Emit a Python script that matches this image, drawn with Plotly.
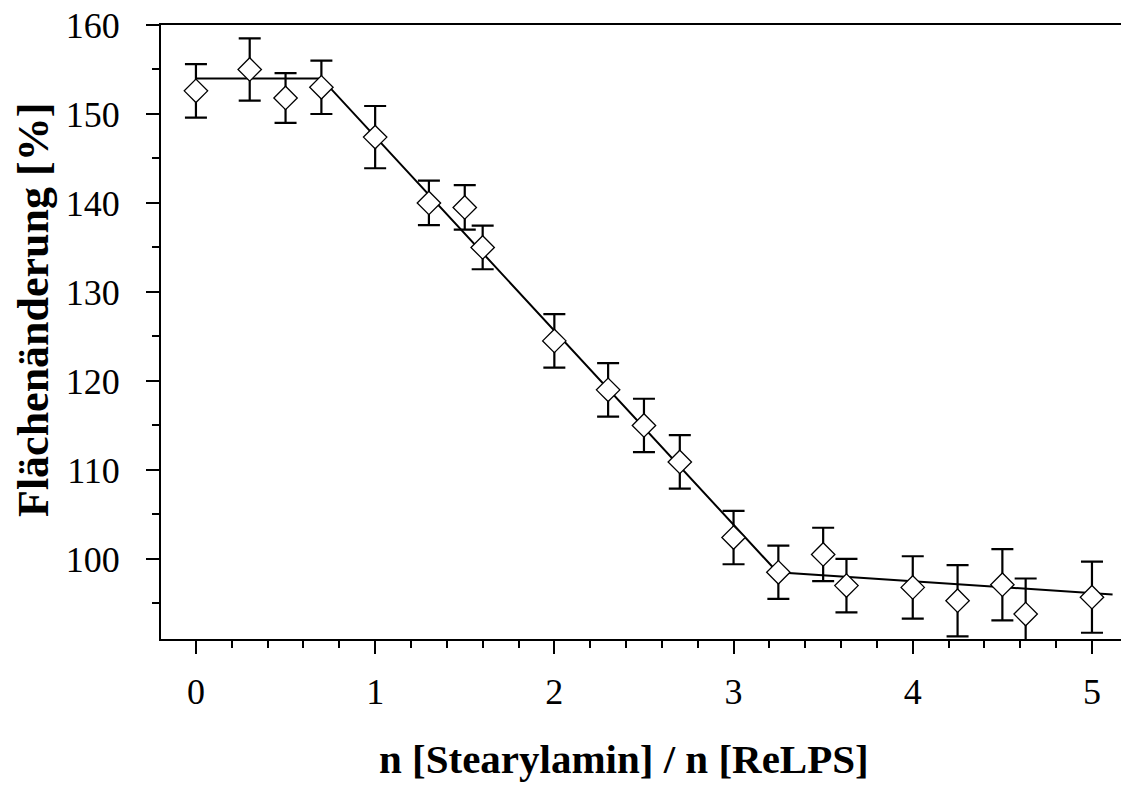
import plotly.graph_objects as go

# Data
ratio = [0, 0.3, 0.5, 0.7, 1.0, 1.3, 1.5, 1.6, 2.0, 2.3, 2.5, 2.7, 3.0, 3.25, 3.5, 3.63, 4.0, 4.25, 4.5, 4.63, 5.0]
area_change = [152.6, 155.0, 151.8, 153.0, 147.4, 140.0, 139.5, 135.0, 124.5, 119.0, 115.0, 110.9, 102.4, 98.5, 100.5, 97.0, 96.8, 95.3, 97.1, 93.8, 95.7]
area_err = [3.0, 3.5, 2.8, 3.0, 3.5, 2.5, 2.5, 2.45, 3.0, 3.0, 3.0, 3.0, 3.0, 3.0, 3.0, 3.0, 3.5, 4.0, 4.0, 4.0, 4.0]

fit_x = [0, 0.7, 3.245, 5.115]
fit_y = [154.0, 154.0, 98.5, 96.0]

x_ticks = [0, 1, 2, 3, 4, 5]
y_ticks = [100, 110, 120, 130, 140, 150, 160]

font_family = "Liberation Serif, Times New Roman, serif"

fig = go.Figure()
fig.add_trace(go.Scatter(
    x=fit_x, y=fit_y, mode="lines",
    line=dict(color="black", width=2),
    hoverinfo="skip", showlegend=False,
))
fig.add_trace(go.Scatter(
    x=ratio, y=area_change, mode="markers",
    marker=dict(symbol="diamond", size=18, color="white",
                line=dict(color="black", width=1.3)),
    error_y=dict(type="data", array=area_err, visible=True,
                 color="black", thickness=2.2, width=11),
    showlegend=False,
))

axis_common = dict(
    showgrid=False, zeroline=False,
    showline=True, linecolor="black", linewidth=2,
    ticks="outside", tickcolor="black", tickwidth=2, ticklen=13,
    tickfont=dict(family=font_family, size=36, color="black"),
)

fig.update_xaxes(
    **axis_common,
    range=[-0.195, 5.162],
    tickvals=x_ticks,
    mirror=True,
    minor=dict(dtick=0.2, tick0=0, ticklen=7, tickwidth=2, tickcolor="black", ticks="outside"),
    ticklabelstandoff=7,
)
fig.update_yaxes(
    **axis_common,
    range=[91, 160],
    tickvals=y_ticks,
    minor=dict(dtick=5, tick0=0, ticklen=7, tickwidth=2, tickcolor="black", ticks="outside"),
    ticklabelstandoff=19,
)

fig.add_annotation(
    text="<b>n [Stearylamin] / n [ReLPS]</b>",
    xref="paper", yref="paper",
    x=(624 - 161) / 960, y=(639 - 759) / 614,
    xanchor="center", yanchor="middle",
    showarrow=False,
    font=dict(family=font_family, size=41, color="black"),
)
fig.add_annotation(
    text="<b>Flächenänderung [%]</b>",
    xref="paper", yref="paper",
    x=(33 - 161) / 960, y=(639 - 310) / 614,
    xanchor="center", yanchor="middle",
    textangle=-90, showarrow=False,
    font=dict(family=font_family, size=44, color="black"),
)

fig.update_layout(
    width=1121, height=785,
    margin=dict(l=161, r=0, t=25, b=146),
    paper_bgcolor="white", plot_bgcolor="white",
)

fig.write_html("out.html")
